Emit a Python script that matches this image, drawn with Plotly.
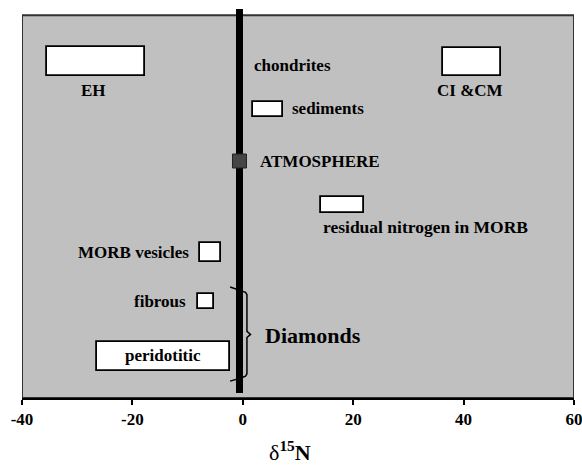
import plotly.graph_objects as go

# ---- data (x in delta15N permil, y in arbitrary row units) ----
box_names = ["EH", "CI &CM", "sediments", "residual nitrogen in MORB",
             "MORB vesicles", "fibrous", "peridotitic"]
box_start = [-35.5, 36.3, 1.8, 14.1, -7.8, -8.05, -26.5]
box_end = [-17.8, 46.7, 7.2, 22.0, -4.0, -5.2, -2.4]
box_row = [8.79, 8.78, 7.54, 5.04, 3.80, 2.51, 1.09]
box_height = [0.76, 0.74, 0.40, 0.40, 0.49, 0.39, 0.76]

atm_x = [-0.6]
atm_y = [6.19]

zero_line_x = [-0.6, -0.6]
zero_line_y = [0.13, 10.16]

brace_x = [-2.3, -0.2, 0.5, 0.75, 0.75, 1.4, 0.75, 0.75, 0.5, -0.2, -2.3]
brace_y = [2.90, 2.80, 2.76, 2.70, 1.74, 1.66, 1.58, 0.63, 0.57, 0.53, 0.44]

labels = ["chondrites", "EH", "CI &CM", "sediments", "ATMOSPHERE",
          "residual nitrogen in MORB", "MORB vesicles", "fibrous",
          "peridotitic", "Diamonds"]
label_x = [1.6, -27.1, 41.2, 8.5, 2.7, 33.1, -9.3, -10.0, -14.5, 3.6]
label_y = [8.69, 8.02, 8.04, 7.57, 6.19, 4.46, 3.81, 2.53, 1.10, 1.64]
label_anchor = ["left", "center", "center", "left", "left", "center",
                "right", "right", "center", "left"]
label_size = [17, 17, 17, 17, 17, 17.5, 17, 17, 17, 22]

tick_vals = [-40, -20, 0, 20, 40, 60]
tick_text = ["-40", "-20", "0", "20", "40", "60"]

x_range = [-40, 60]
y_range = [0, 10.16]
panel_top = 10.0

FONT = "Liberation Serif, Times New Roman, serif"

fig = go.Figure()

# brace (drawn first so thick line covers it)
fig.add_trace(go.Scatter(x=brace_x, y=brace_y, mode="lines",
                         line=dict(color="black", width=1.5),
                         hoverinfo="skip", showlegend=False))

# boxes
fig.add_trace(go.Bar(
    orientation="h",
    base=box_start,
    x=[e - s for s, e in zip(box_start, box_end)],
    y=box_row,
    width=box_height,
    marker=dict(color="white", line=dict(color="black", width=1.8)),
    hovertext=box_names, showlegend=False))

# thick zero line
fig.add_trace(go.Scatter(x=zero_line_x, y=zero_line_y, mode="lines",
                         line=dict(color="black", width=7),
                         hoverinfo="skip", showlegend=False))

# atmosphere marker
fig.add_trace(go.Scatter(x=atm_x, y=atm_y, mode="markers",
                         marker=dict(symbol="square", size=14, color="#454545",
                                     line=dict(color="#222", width=1)),
                         showlegend=False, cliponaxis=False))

for t, lx, ly, a, s in zip(labels, label_x, label_y, label_anchor, label_size):
    fig.add_annotation(x=lx, y=ly, text="<b>%s</b>" % t, showarrow=False,
                       xanchor=a, yanchor="middle",
                       font=dict(family=FONT, size=s, color="black"))

# axis title as annotation
fig.add_annotation(xref="paper", yref="paper", x=0.485, y=-0.137,
                   xanchor="center", yanchor="middle", showarrow=False,
                   text="δ<b><sup>15</sup>N</b>",
                   font=dict(family=FONT, size=22, color="black"))

# gray panel
fig.add_shape(type="rect", xref="x", yref="y",
              x0=x_range[0], x1=x_range[1], y0=y_range[0], y1=panel_top,
              fillcolor="#c0c0c0", line=dict(color="#333", width=2),
              layer="below")

fig.update_layout(
    width=582, height=465,
    margin=dict(l=22, r=8, t=9, b=67),
    paper_bgcolor="white", plot_bgcolor="white",
    font=dict(family=FONT, color="black"),
    bargap=0,
    xaxis=dict(range=x_range, tickvals=tick_vals, ticktext=tick_text,
               automargin=False, ticklabeloverflow="allow",
               ticks="outside", ticklen=5, tickwidth=1.5, tickcolor="black",
               showline=True, linecolor="black", linewidth=1.5,
               showgrid=False, zeroline=False,
               tickfont=dict(family=FONT, size=17, color="black",
                             weight="bold")),
    yaxis=dict(range=y_range, showticklabels=False, ticks="",
               automargin=False,
               showgrid=False, zeroline=False, showline=False),
)

fig.write_html("out.html")
